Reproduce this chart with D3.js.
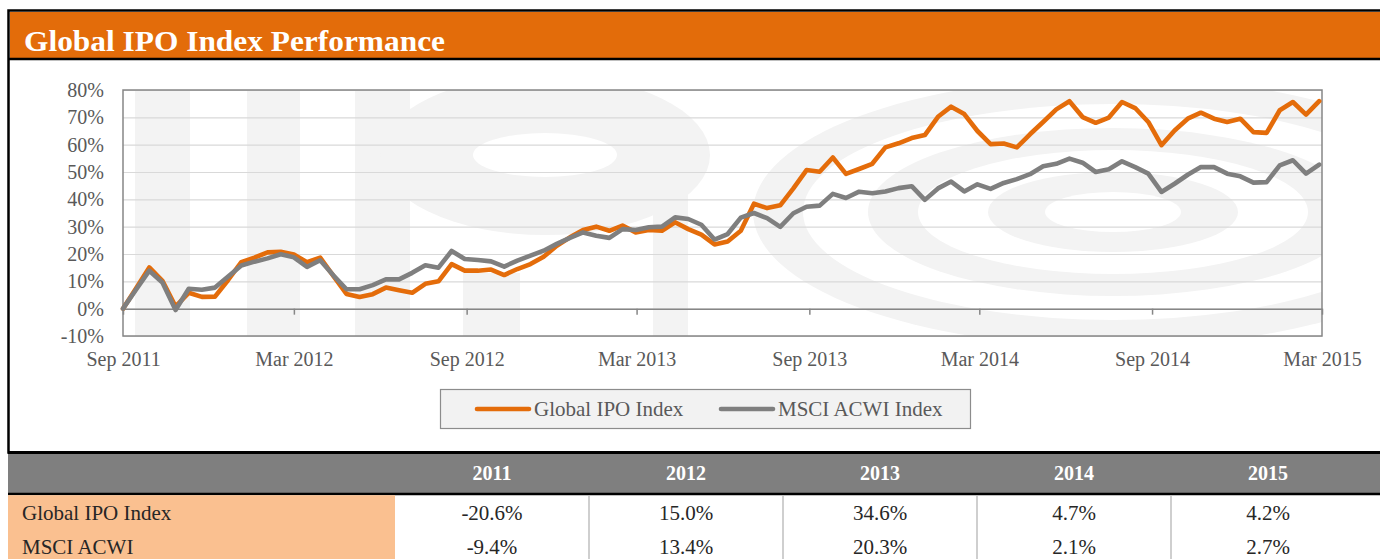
<!doctype html>
<html>
<head>
<meta charset="utf-8">
<style>
    body { margin: 0; background: #fff; font-family: 'Liberation Serif', serif; }
    svg { display: block; }
    .tick text { font-family: 'Liberation Serif', serif; font-size: 20px; fill: #595959; }
    .grid line { stroke: #d9d9d9; stroke-width: 1.2; }
    .grid path { stroke-width: 0; }
    text.legend { font-size: 21px; fill: #595959; }
    text.cell { font-size: 21px; fill: #262626; }
    text.year { font-size: 20px; font-weight: bold; fill: #fff; }
</style>
<script src="https://d3js.org/d3.v7.min.js"></script>
</head>
<body>
<svg width="1380" height="559"></svg>
<script>
    // biweekly observations, Sep 2011 .. Feb 2015 (cumulative return, %)
    const startDate = new Date(2011, 8, 1)
    const dates = d3.range(92).map(i => d3.timeDay.offset(startDate, 14 * i))

    const ipoIndex = [
        0, 7.5, 15.1, 10.2, 0.8, 5.8, 4.3, 4.4, 10.5, 17,
        18.7, 20.6, 20.8, 19.8, 17, 18.7, 12, 5.4, 4.3, 5.3,
        7.7, 6.7, 5.8, 9.1, 10, 16.3, 13.9, 13.9, 14.3, 12.3,
        14.5, 16.3, 19, 23, 26.1, 28.8, 30, 28.5, 30.4, 27.9,
        28.8, 28.5, 31.6, 29.1, 27.1, 23.5, 24.6, 28.5, 38.4, 36.8,
        37.8, 44, 50.7, 50.1, 55.3, 49.3, 51.1, 53, 59, 60.5,
        62.4, 63.5, 70.2, 73.9, 71.2, 65, 60.2, 60.4, 59, 63.8,
        68.3, 72.9, 75.9, 70.1, 68, 69.9, 75.6, 73.4, 68.3, 59.8,
        65.2, 69.5, 71.7, 69.5, 68.3, 69.5, 64.6, 64.3, 72.6, 75.6,
        71, 75.9
    ]
    const msciAcwi = [
        0, 7, 13.9, 9.6, -0.5, 7.3, 6.9, 7.7, 11.8, 15.8,
        17.2, 18.4, 19.9, 18.8, 15.3, 17.7, 12.2, 7.1, 7.1, 8.6,
        10.7, 10.7, 13.1, 15.9, 15, 21.1, 18.2, 17.8, 17.3, 15.4,
        17.6, 19.4, 21.2, 23.7, 25.9, 27.9, 26.7, 25.9, 29.1, 28.8,
        29.8, 30, 33.4, 32.8, 30.7, 25.3, 27.3, 33.3, 35, 33.1,
        29.9, 34.9, 37.3, 37.7, 42, 40.5, 42.8, 42.2, 42.9, 44.1,
        44.8, 39.8, 44, 46.5, 42.9, 45.5, 43.8, 46, 47.4, 49.2,
        52.1, 53, 54.9, 53.4, 50, 51, 53.9, 51.8, 49.4, 42.7,
        45.7, 49, 51.8, 51.8, 49.4, 48.4, 46.1, 46.3, 52.4, 54.3,
        49.4, 52.7
    ]

    const seriesNames = ['Global IPO Index', 'MSCI ACWI Index']
    const seriesColors = ['#e46c0a', '#7f7f7f']

    const xTickDates = [
        new Date(2011, 8, 1), new Date(2012, 2, 1), new Date(2012, 8, 1),
        new Date(2013, 2, 1), new Date(2013, 8, 1), new Date(2014, 2, 1),
        new Date(2014, 8, 1), new Date(2015, 2, 1)
    ]
    const yTicks = [-10, 0, 10, 20, 30, 40, 50, 60, 70, 80]

    const tableYears = ['2011', '2012', '2013', '2014', '2015']
    const tableRowNames = ['Global IPO Index', 'MSCI ACWI']
    const ipoYearly = ['-20.6%', '15.0%', '34.6%', '4.7%', '4.2%']
    const msciYearly = ['-9.4%', '13.4%', '20.3%', '2.1%', '2.7%']

    const svg = d3.select('svg')

    // ---- frame + header
    svg.append('rect').attr('x', 8.5).attr('y', 10.5).attr('width', 1380).attr('height', 442)
        .attr('fill', '#fff').attr('stroke', '#000').attr('stroke-width', 2.5)
    svg.append('rect').attr('x', 10).attr('y', 12).attr('width', 1370).attr('height', 46)
        .attr('fill', '#e36c0a')
    svg.append('line').attr('x1', 8).attr('x2', 1380).attr('y1', 59).attr('y2', 59)
        .attr('stroke', '#000').attr('stroke-width', 2.5)
    svg.append('text').attr('x', 24).attr('y', 51)
        .attr('fill', '#fff').attr('font-size', 30).attr('font-weight', 'bold')
        .attr('textLength', 421).attr('lengthAdjust', 'spacingAndGlyphs')
        .text('Global IPO Index Performance')

    // ---- chart
    const plot = { left: 123, top: 90, right: 1322, bottom: 336 }

    const x = d3.scaleTime()
        .domain([xTickDates[0], xTickDates[xTickDates.length - 1]])
        .range([plot.left, plot.right])
    const y = d3.scaleLinear()
        .domain([-10, 80])
        .range([plot.bottom, plot.top])

    // faint watermark behind the plot
    svg.append('clipPath').attr('id', 'plotclip')
        .append('rect').attr('x', plot.left).attr('y', plot.top)
        .attr('width', plot.right - plot.left).attr('height', plot.bottom - plot.top)
    const wm = svg.append('g').attr('clip-path', 'url(#plotclip)')
    const wmFill = '#f3f3f3'
    ;[[135, 55], [247, 53], [355, 55]].forEach(([bx, bw]) => {
        wm.append('rect').attr('x', bx).attr('y', plot.top).attr('width', bw)
            .attr('height', plot.bottom - plot.top).attr('fill', wmFill)
    })
    wm.append('rect').attr('x', 463).attr('y', 273).attr('width', 57).attr('height', 70).attr('fill', wmFill)
    wm.append('rect').attr('x', 653).attr('y', 187).attr('width', 35).attr('height', 160).attr('fill', wmFill)
    ;[[165, 80, wmFill], [72, 22, '#fff']].forEach(([rx, ry, f]) => {
        wm.append('ellipse').attr('cx', 545).attr('cy', 155).attr('rx', rx).attr('ry', ry).attr('fill', f)
    })
    ;[[360, 135, wmFill], [310, 108, '#fff'], [245, 84, wmFill], [195, 62, '#fff'],
      [125, 40, wmFill], [68, 20, '#fff']].forEach(([rx, ry, f]) => {
        wm.append('ellipse').attr('cx', 1113).attr('cy', 212).attr('rx', rx).attr('ry', ry).attr('fill', f)
    })

    // gridlines
    svg.append('g')
        .attr('class', 'grid')
        .attr('transform', `translate(${plot.left},0)`)
        .call(d3.axisLeft(y).tickValues(yTicks).tickSize(-(plot.right - plot.left)).tickFormat(''))

    // plot border
    svg.append('rect').attr('x', plot.left).attr('y', plot.top)
        .attr('width', plot.right - plot.left).attr('height', plot.bottom - plot.top)
        .attr('fill', 'none').attr('stroke', '#868686').attr('stroke-width', 1.5)

    // y labels
    const yAxis = svg.append('g')
        .attr('transform', `translate(${plot.left},0)`)
        .call(d3.axisLeft(y).tickValues(yTicks).tickSize(0).tickPadding(19).tickFormat(d => d + '%'))
    yAxis.select('.domain').remove()

    // zero line with tick marks
    const zeroAxis = svg.append('g')
        .attr('transform', `translate(0,${y(0)})`)
        .call(d3.axisBottom(x).tickValues(xTickDates).tickSize(6).tickSizeOuter(0).tickFormat(''))
    zeroAxis.select('.domain').attr('stroke', '#868686').attr('stroke-width', 1.5)
    zeroAxis.selectAll('.tick line').attr('stroke', '#868686').attr('stroke-width', 1.5)

    // x labels sit below the plot
    const xAxis = svg.append('g')
        .attr('transform', `translate(0,${plot.bottom})`)
        .call(d3.axisBottom(x).tickValues(xTickDates).tickSize(0).tickPadding(16)
            .tickFormat(d3.timeFormat('%b %Y')))
    xAxis.select('.domain').remove()

    const line = d3.line()
        .x((d, i) => x(dates[i]))
        .y(d => y(d))

    ;[ipoIndex, msciAcwi].forEach((values, k) => {
        svg.append('path')
            .datum(values)
            .attr('fill', 'none')
            .attr('stroke', seriesColors[k])
            .attr('stroke-width', 4.6)
            .attr('stroke-linejoin', 'round')
            .attr('stroke-linecap', 'round')
            .attr('d', line)
    })

    // legend
    svg.append('rect').attr('x', 440.5).attr('y', 389.5).attr('width', 530).attr('height', 39)
        .attr('fill', '#f2f2f2').attr('stroke', '#8c8c8c').attr('stroke-width', 1.2)
    const legendX = [477, 721]
    seriesNames.forEach((name, k) => {
        svg.append('line')
            .attr('x1', legendX[k]).attr('x2', legendX[k] + 52)
            .attr('y1', 409).attr('y2', 409)
            .attr('stroke', seriesColors[k]).attr('stroke-width', 4.6).attr('stroke-linecap', 'round')
        svg.append('text').attr('class', 'legend')
            .attr('x', legendX[k] + 57).attr('y', 416)
            .text(name)
    })

    // ---- table
    const colLeft = 395, colW = 194
    svg.append('rect').attr('x', 8).attr('y', 453).attr('width', 1372).attr('height', 41).attr('fill', '#7f7f7f')
    svg.append('line').attr('x1', 8).attr('x2', 1380).attr('y1', 452.5).attr('y2', 452.5)
        .attr('stroke', '#000').attr('stroke-width', 3)
    svg.append('line').attr('x1', 8).attr('x2', 1380).attr('y1', 494).attr('y2', 494)
        .attr('stroke', '#000').attr('stroke-width', 2.5)
    svg.append('rect').attr('x', 8).attr('y', 495.2).attr('width', colLeft - 8).attr('height', 64).attr('fill', '#fac090')

    tableYears.forEach((yr, j) => {
        svg.append('text').attr('class', 'year')
            .attr('x', colLeft + colW * j + colW / 2).attr('y', 480)
            .attr('text-anchor', 'middle').text(yr)
        if (j > 0) {
            svg.append('line')
                .attr('x1', colLeft + colW * j).attr('x2', colLeft + colW * j)
                .attr('y1', 495.5).attr('y2', 559)
                .attr('stroke', '#bfbfbf').attr('stroke-width', 1.5)
        }
    })

    const rowY = [520, 554]
    ;[ipoYearly, msciYearly].forEach((vals, r) => {
        svg.append('text').attr('class', 'cell')
            .attr('x', 22).attr('y', rowY[r]).text(tableRowNames[r])
        vals.forEach((v, j) => {
            svg.append('text').attr('class', 'cell')
                .attr('x', colLeft + colW * j + colW / 2).attr('y', rowY[r])
                .attr('text-anchor', 'middle').text(v)
        })
    })
</script>
</body>
</html>
